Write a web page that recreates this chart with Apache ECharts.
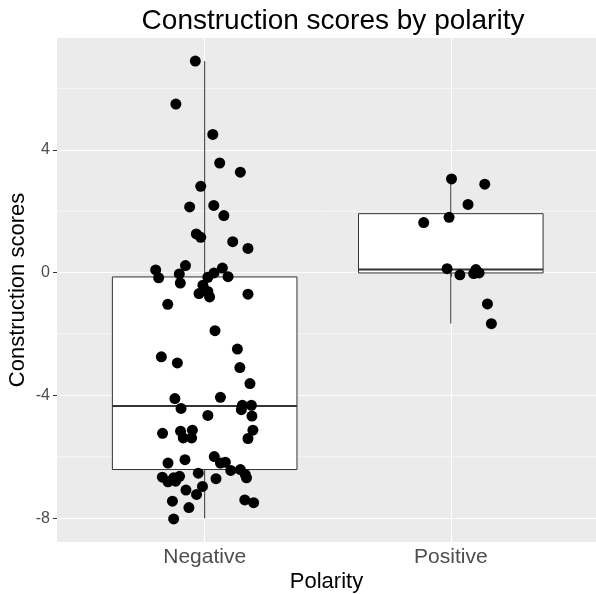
<!DOCTYPE html>
<html>
<head>
<meta charset="utf-8">
<script src="https://cdn.jsdelivr.net/npm/echarts@6/dist/echarts.min.js"></script>
<style>
  html, body { margin: 0; padding: 0; background: #fff; }
  #main { width: 596px; height: 594px; }
</style>
</head>
<body>
<div id="main"></div>
<script>
  // categories and axis ticks
  var categories = ['Negative', 'Positive'];
  var yTicks = [-8, -4, 0, 4];
  var yMinorTicks = [-6, -2, 2, 6];

  // box stats: [min, q1, median, q3, max]
  var negativeBox = [-8.0, -6.41, -4.34, -0.14, 6.89];
  var positiveBox = [-1.66, -0.01, 0.10, 1.92, 3.05];

  // jittered points (x is category position 1/2 plus jitter)
  var negativeX = [0.962, 0.883, 1.033, 1.061, 1.145, 0.984, 0.939, 1.037, 1.078, 0.966,
    0.984, 1.114, 1.176, 0.801, 0.922, 1.072, 0.813, 0.897, 1.038, 1.013,
    1.095, 0.901, 0.993, 1.013, 0.977, 1.020, 1.176, 0.850, 1.042, 1.133,
    0.824, 0.889, 1.143, 1.184, 0.879, 1.064, 0.904, 1.153, 1.190, 1.149,
    1.013, 1.192, 0.829, 0.902, 0.950, 0.913, 0.947, 1.196, 1.176, 0.851,
    0.920, 1.039, 1.064, 1.084, 0.974, 0.828, 0.851, 0.874, 0.898, 0.882,
    1.046, 1.106, 1.145, 1.165, 1.170, 0.991, 0.924, 0.967, 0.869, 0.936,
    1.163, 1.199, 0.874];
  var negativeScores = [6.89, 5.49, 4.50, 3.57, 3.27, 2.81, 2.14, 2.19, 1.86, 1.26,
    1.15, 1.01, 0.79, 0.09, 0.23, 0.15, -0.17, -0.04, -0.01, -0.15,
    -0.13, -0.34, -0.41, -0.61, -0.68, -0.79, -0.70, -1.03, -1.89, -2.49,
    -2.74, -2.94, -3.09, -3.61, -4.10, -4.06, -4.42, -4.32, -4.32, -4.46,
    -4.65, -4.67, -5.23, -5.16, -5.13, -5.38, -5.38, -5.13, -5.40, -6.20,
    -6.09, -5.99, -6.20, -6.17, -6.53, -6.66, -6.81, -6.68, -6.63, -6.79,
    -6.71, -6.44, -6.41, -6.57, -6.68, -6.96, -7.08, -7.22, -7.44, -7.65,
    -7.40, -7.49, -8.02];
  var positiveX = [2.003, 2.138, 2.070, 1.993, 1.890, 1.985, 2.037, 2.102, 2.093, 2.115, 2.149, 2.165];
  var positiveScores = [3.05, 2.88, 2.22, 1.80, 1.63, 0.13, -0.07, 0.10, -0.03, -0.01, -1.02, -1.66];

  var boxHalf = 0.375;
  var lineColor = '#333333';
  var textColor = '#4D4D4D';
  var fontName = 'Liberation Sans, Arial, sans-serif';

  var boxData = [[1].concat(negativeBox), [2].concat(positiveBox)];
  var pointData = [];
  for (var i = 0; i < negativeX.length; i++) {
    pointData.push([negativeX[i], negativeScores[i]]);
  }
  for (var j = 0; j < positiveX.length; j++) {
    pointData.push([positiveX[j], positiveScores[j]]);
  }

  function renderBox(params, api) {
    var x = api.value(0);
    var lo = api.coord([x, api.value(1)]);
    var q1 = api.coord([x, api.value(2)]);
    var q3 = api.coord([x, api.value(4)]);
    var hi = api.coord([x, api.value(5)]);
    var tl = api.coord([x - boxHalf, api.value(4)]);
    var br = api.coord([x + boxHalf, api.value(2)]);
    var ml = api.coord([x - boxHalf, api.value(3)]);
    var mr = api.coord([x + boxHalf, api.value(3)]);
    var ls = { stroke: lineColor, lineWidth: 1 };
    return {
      type: 'group',
      children: [
        { type: 'line', shape: { x1: lo[0], y1: lo[1], x2: q1[0], y2: q1[1] }, style: ls },
        { type: 'line', shape: { x1: q3[0], y1: q3[1], x2: hi[0], y2: hi[1] }, style: ls },
        { type: 'rect', shape: { x: tl[0], y: tl[1], width: br[0] - tl[0], height: br[1] - tl[1] },
          style: { fill: '#FFFFFF', stroke: lineColor, lineWidth: 1 } },
        { type: 'line', shape: { x1: ml[0], y1: ml[1], x2: mr[0], y2: mr[1] },
          style: { stroke: lineColor, lineWidth: 2 } }
      ]
    };
  }

  function renderMinor(params, api) {
    var cs = params.coordSys;
    var p = api.coord([1, api.value(0)]);
    return {
      type: 'line',
      shape: { x1: cs.x, y1: p[1], x2: cs.x + cs.width, y2: p[1] },
      style: { stroke: '#FFFFFF', lineWidth: 0.6 }
    };
  }

  var option = {
    backgroundColor: '#FFFFFF',
    animation: false,
    title: {
      text: 'Construction scores by polarity',
      left: 328,
      textAlign: 'center',
      top: 2,
      textStyle: { fontFamily: fontName, fontSize: 28, fontWeight: 'normal', color: '#000' }
    },
    grid: {
      left: 57,
      right: 0,
      top: 38,
      bottom: 52,
      outerBoundsMode: 'none',
      containLabel: false,
      show: true,
      backgroundColor: '#EBEBEB',
      borderWidth: 0
    },
    xAxis: {
      type: 'value',
      min: 0.4,
      max: 2.59,
      name: 'Polarity',
      nameLocation: 'middle',
      nameGap: 29,
      nameMoveOverlap: false,
      nameTextStyle: { fontFamily: fontName, fontSize: 22, color: '#000' },
      axisLine: { show: false },
      axisTick: { show: true, length: 4, customValues: [1, 2], lineStyle: { color: lineColor } },
      axisLabel: {
        customValues: [1, 2],
        margin: 5,
        fontFamily: fontName,
        fontSize: 21,
        color: textColor,
        formatter: function (v) { return categories[Math.round(v) - 1]; }
      },
      splitLine: { show: true, lineStyle: { color: '#FFFFFF', width: 1.1 } }
    },
    yAxis: {
      type: 'value',
      min: -8.77,
      max: 7.64,
      name: 'Construction scores',
      nameLocation: 'middle',
      nameGap: 28,
      nameRotate: 90,
      nameMoveOverlap: false,
      nameTextStyle: { fontFamily: fontName, fontSize: 22, color: '#000' },
      axisLine: { show: false },
      axisTick: { show: true, length: 4, customValues: yTicks, lineStyle: { color: lineColor } },
      axisLabel: {
        customValues: yTicks,
        margin: 7,
        fontFamily: fontName,
        fontSize: 16,
        color: textColor
      },
      splitLine: { show: true, lineStyle: { color: '#FFFFFF', width: 1.1 } }
    },
    series: [
      {
        type: 'custom',
        name: 'minor',
        renderItem: renderMinor,
        data: yMinorTicks.map(function (v) { return [v]; }),
        encode: { y: 0 },
        silent: true,
        z: 1
      },
      {
        type: 'custom',
        name: 'box',
        renderItem: renderBox,
        data: boxData,
        encode: { x: 0, y: [1, 2, 3, 4, 5] },
        z: 2
      },
      {
        type: 'scatter',
        name: 'points',
        data: pointData,
        symbolSize: 11,
        itemStyle: { color: '#000000', opacity: 1 },
        z: 3
      }
    ]
  };

  var chart = echarts.init(document.getElementById('main'));
  chart.setOption(option);
  window.addEventListener('resize', function () {
    chart.resize();
  }, false);
</script>
</body>
</html>
